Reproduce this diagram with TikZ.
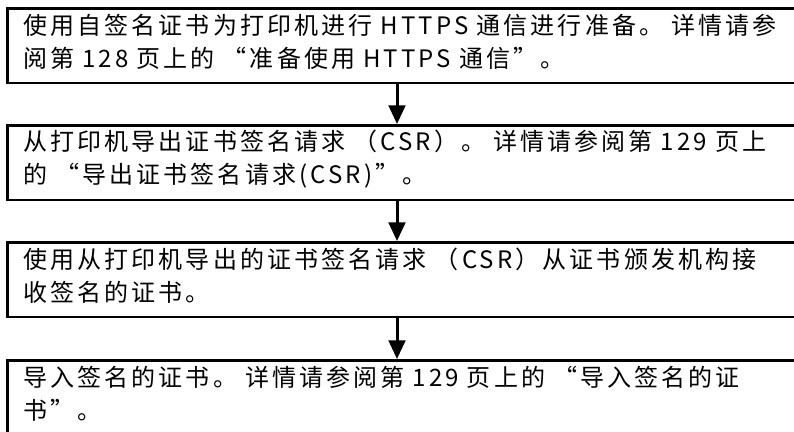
\documentclass[tikz,border=0pt]{standalone}
\usepackage{fontspec}
\setmainfont{Noto Sans CJK SC}[LetterSpace=13]
\usetikzlibrary{arrows.meta}
\begin{document}
\begin{tikzpicture}[x=0.75pt, y=-0.75pt, every node/.style={inner sep=0pt}]
  \tikzset{stepbox/.style={rectangle, draw=black, line width=1.9pt, anchor=north west, minimum height=56pt, minimum width=620pt}}
  \tikzset{steptext/.style={anchor=west, xshift=12.75pt, yshift=3pt, text width=600pt, align=left, font=\fontsize{18pt}{24.75pt}\selectfont}}
  \tikzset{flow/.style={draw=black, line width=2.25pt, -{Triangle[length=14pt, width=12.5pt]}}}
  \useasboundingbox (0,0) rectangle (794,432);
  \clip (0,0) rectangle (794,432);
  \coordinate (axis) at (397,0);
  \node[stepbox] (step1) at (6,7) {};
  \node[stepbox] (step2) at (6,124) {};
  \node[stepbox] (step3) at (6,241) {};
  \node[stepbox] (step4) at (6,359) {};
  \node[steptext] (text1) at (step1.west) {使用自签名证书为打印机进行 HTTPS 通信进行准备。 详情请参\\阅第 128 页上的 “准备使用 HTTPS 通信”。};
  \node[steptext] (text2) at (step2.west) {从打印机导出证书签名请求 （CSR）。 详情请参阅第 129 页上\\的 “导出证书签名请求(CSR)”。};
  \node[steptext] (text3) at (step3.west) {使用从打印机导出的证书签名请求 （CSR）从证书颁发机构接\\收签名的证书。};
  \node[steptext] (text4) at (step4.west) {导入签名的证书。 详情请参阅第 129 页上的 “导入签名的证\\书”。};
  % steps
  \draw[flow] (step1.south -| axis) -- (step2.north -| axis);
  \draw[flow] (step2.south -| axis) -- (step3.north -| axis);
  \draw[flow] (step3.south -| axis) -- (step4.north -| axis);
\end{tikzpicture}
\end{document}
